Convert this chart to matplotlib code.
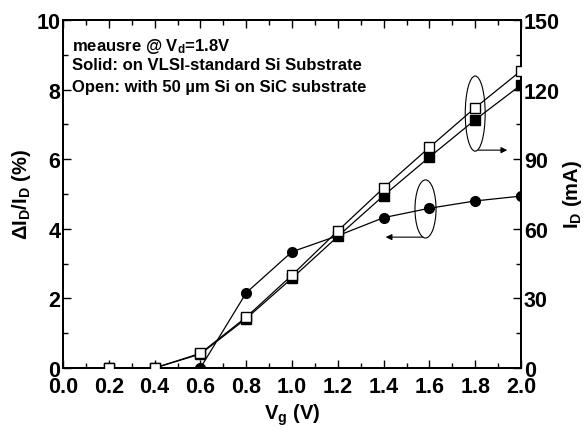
import matplotlib.pyplot as plt
import numpy as np
from matplotlib.patches import Ellipse
from matplotlib.ticker import MultipleLocator

plt.rcParams['font.family'] = ['Liberation Sans', 'DejaVu Sans']
plt.rcParams['font.weight'] = 'bold'
plt.rcParams['axes.labelweight'] = 'bold'
plt.rcParams['mathtext.default'] = 'regular'

# delta I_D / I_D (%), left axis, filled circles
vg_circ = [0.6, 0.8, 1.0, 1.2, 1.4, 1.6, 1.8, 2.0]
dI = [0.0, 2.16, 3.34, 3.8, 4.32, 4.59, 4.8, 4.94]

# I_D (mA), right axis
vg_sq = [0.2, 0.4, 0.6, 0.8, 1.0, 1.2, 1.4, 1.6, 1.8, 2.0]
id_open = [0, 0, 6.3, 21.9, 40.0, 59.1, 77.6, 95.1, 112.2, 128.1]
id_solid = [0, 0, 6.0, 21.3, 38.7, 56.7, 74.3, 90.9, 107.0, 122.0]

fig = plt.figure(figsize=(5.85, 4.31), dpi=100)
ax = fig.add_axes([0.1077, 0.1439, 0.7829, 0.8074])
ax2 = ax.twinx()

ax.plot(vg_circ, dI, '-o', color='black', lw=0.9, ms=7, zorder=3)
ax2.plot(vg_sq, id_open, '-s', color='black', mfc='white', mec='black',
         mew=1.0, lw=0.9, ms=7, zorder=4)
ax2.plot(vg_sq, id_solid, '-s', color='black', lw=0.9, ms=6.5, zorder=3)

ax.set_xlim(0, 2.0)
ax.set_ylim(0, 10)
ax2.set_ylim(0, 150)

ax.xaxis.set_minor_locator(MultipleLocator(0.1))
ax.yaxis.set_major_locator(MultipleLocator(2))
ax.yaxis.set_minor_locator(MultipleLocator(1))
ax2.yaxis.set_major_locator(MultipleLocator(30))
ax2.yaxis.set_minor_locator(MultipleLocator(15))

xt = np.arange(0, 2.01, 0.2)
ax.set_xticks(xt)
ax.set_xticklabels(['%.1f' % v for v in xt])

ax.tick_params(which='both', direction='in', top=True, right=False, labelsize=15.5, pad=2)
ax.tick_params(axis='x', which='both', pad=6)
ax.tick_params(which='major', length=6, width=1)
ax.tick_params(which='minor', length=3.5, width=1)
ax2.tick_params(which='both', direction='in', labelsize=15.5, pad=2)
ax2.tick_params(which='major', length=6, width=1)
ax2.tick_params(which='minor', length=3.5, width=1)

for a in (ax, ax2):
    for s in a.spines.values():
        s.set_linewidth(1.4)

ax.set_xlabel('V$_g$ (V)', fontsize=14.5)
ax.set_ylabel('ΔI$_D$/I$_D$ (%)', fontsize=14.5)
ax2.set_ylabel('I$_D$ (mA)', fontsize=14.5)
ax.xaxis.set_label_coords(0.5, -0.095)
ax.yaxis.set_label_coords(-0.066, 0.5)
ax2.yaxis.set_label_coords(1.088, 0.5)

ax.text(0.02, 0.955, 'meausre @ V$_d$=1.8V', transform=ax.transAxes,
        fontsize=12, va='top')
ax.text(0.02, 0.893, 'Solid: on VLSI-standard Si Substrate', transform=ax.transAxes,
        fontsize=12, va='top')
ax.text(0.02, 0.831, 'Open: with 50 µm Si on SiC substrate', transform=ax.transAxes,
        fontsize=12, va='top')

# ellipses with arrows
ax.add_patch(Ellipse((1.80, 7.31), 0.087, 2.16, fill=False, ec='black', lw=0.8, zorder=5))
ax.annotate('', xy=(1.952, 6.26), xytext=(1.80, 6.26),
            arrowprops=dict(arrowstyle='-|>', color='black', lw=0.8, mutation_scale=9))
ax.add_patch(Ellipse((1.583, 4.57), 0.092, 1.67, fill=False, ec='black', lw=0.8, zorder=5))
ax.annotate('', xy=(1.397, 3.76), xytext=(1.583, 3.76),
            arrowprops=dict(arrowstyle='-|>', color='black', lw=0.8, mutation_scale=9))

fig.savefig('out.png', dpi=100)
